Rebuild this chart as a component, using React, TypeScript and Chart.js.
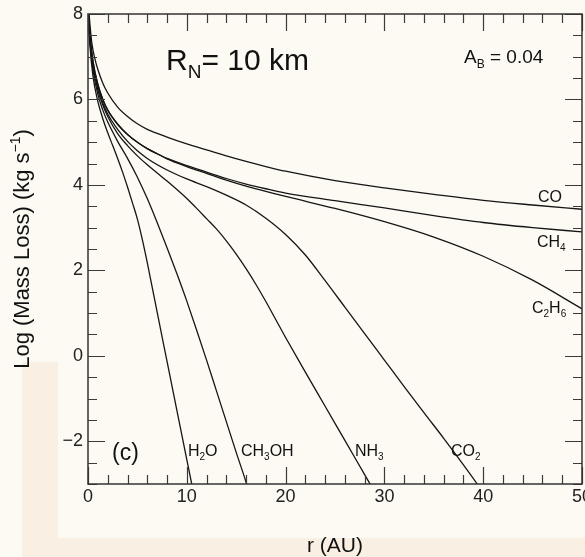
import React, { useEffect, useRef } from "react";
import { Chart, registerables } from "chart.js";

Chart.register(...registerables);

const FONT = '"Liberation Sans", Arial, Helvetica, sans-serif';

const X_MIN = 0;
const X_MAX = 50;
const Y_MIN = -3;
const Y_MAX = 8;
const X_TICKS = [0, 10, 20, 30, 40, 50];
const Y_TICKS = [-2, 0, 2, 4, 6, 8];
const X_MINOR = 2;
const X_MAJOR = 10;
const Y_MINOR = 0.5;
const Y_MAJOR = 2;

// r (AU) and log mass loss (kg/s) per species
const CO_R = [0, 0.2, 0.4, 0.7, 1, 1.5, 2, 3, 4, 5, 6, 8, 10, 12, 14, 16, 18, 20, 25, 30, 35, 40, 45, 50];
const CO_LOG = [8.3, 7.75, 7.3, 6.95, 6.7, 6.38, 6.15, 5.82, 5.6, 5.43, 5.3, 5.12, 4.96, 4.82, 4.68, 4.55, 4.43, 4.32, 4.1, 3.93, 3.78, 3.64, 3.53, 3.43];

const CH4_R = [0, 0.2, 0.5, 1, 1.5, 2, 3, 4, 5, 6, 7, 8, 10, 12, 14, 16, 18, 20, 25, 30, 35, 40, 45, 50];
const CH4_LOG = [8.2, 7.5, 6.9, 6.35, 6.0, 5.75, 5.42, 5.18, 5.0, 4.85, 4.73, 4.62, 4.45, 4.3, 4.15, 4.02, 3.91, 3.81, 3.63, 3.46, 3.28, 3.12, 3.0, 2.9];

const C2H6_R = [0, 0.2, 0.5, 1, 1.5, 2, 3, 4, 5, 6, 7, 8, 10, 12, 14, 16, 18, 20, 25, 30, 35, 40, 45, 50];
const C2H6_LOG = [8.2, 7.5, 6.9, 6.35, 6.0, 5.75, 5.42, 5.18, 5.0, 4.85, 4.73, 4.61, 4.43, 4.27, 4.11, 3.97, 3.85, 3.73, 3.45, 3.14, 2.78, 2.33, 1.77, 1.1];

const CO2_R = [0, 0.2, 0.5, 1, 1.5, 2, 3, 4, 5, 6, 8, 10, 12, 14, 16, 18, 20, 22, 24, 26, 28, 30, 32, 34, 36, 38, 39.4, 39.7];
const CO2_LOG = [8.1, 7.4, 6.8, 6.3, 5.92, 5.66, 5.3, 5.02, 4.8, 4.62, 4.35, 4.14, 3.96, 3.76, 3.53, 3.22, 2.84, 2.36, 1.76, 1.14, 0.52, -0.1, -0.72, -1.33, -1.93, -2.55, -3.0, -3.1];

const NH3_R = [0, 0.2, 0.5, 1, 1.5, 2, 3, 4, 5, 6, 7, 8, 9, 10, 11, 12, 13, 14, 15, 16, 17, 18, 19, 20, 22, 24, 26, 28, 28.8];
const NH3_LOG = [8.1, 7.4, 6.8, 6.22, 5.87, 5.6, 5.2, 4.92, 4.68, 4.47, 4.28, 4.09, 3.89, 3.68, 3.45, 3.21, 2.97, 2.69, 2.38, 2.04, 1.67, 1.27, 0.85, 0.43, -0.38, -1.18, -1.98, -2.78, -3.1];

const CH3OH_R = [0, 0.2, 0.5, 1, 1.5, 2, 3, 4, 5, 6, 7, 8, 9, 10, 11, 12, 13, 14, 15, 16, 16.3];
const CH3OH_LOG = [8.1, 7.35, 6.7, 6.12, 5.75, 5.47, 5.02, 4.62, 4.18, 3.68, 3.12, 2.53, 1.92, 1.28, 0.6, -0.1, -0.82, -1.54, -2.26, -2.96, -3.2];

const H2O_R = [0, 0.2, 0.5, 1, 1.5, 2, 2.5, 3, 3.5, 4, 4.5, 5, 5.5, 6, 6.5, 7, 8, 9, 10, 10.5, 10.6];
const H2O_LOG = [8.1, 7.25, 6.55, 5.95, 5.55, 5.22, 4.92, 4.62, 4.3, 3.95, 3.58, 3.2, 2.72, 2.18, 1.6, 1.02, -0.13, -1.28, -2.43, -3.0, -3.12];

const SERIES = [
  { name: "CO", r: CO_R, v: CO_LOG },
  { name: "CH4", r: CH4_R, v: CH4_LOG },
  { name: "C2H6", r: C2H6_R, v: C2H6_LOG },
  { name: "CO2", r: CO2_R, v: CO2_LOG },
  { name: "NH3", r: NH3_R, v: NH3_LOG },
  { name: "CH3OH", r: CH3OH_R, v: CH3OH_LOG },
  { name: "H2O", r: H2O_R, v: H2O_LOG },
];

type Part = { t: string; sub?: boolean; sup?: boolean };

function drawRich(ctx: CanvasRenderingContext2D, parts: Part[], x: number, y: number, size: number, measureOnly = false): number {
  let cx = x;
  for (const p of parts) {
    const s = p.sub || p.sup ? Math.round(size * 0.62) : size;
    ctx.font = `${s}px ${FONT}`;
    const dy = p.sub ? size * 0.28 : p.sup ? -size * 0.42 : 0;
    if (!measureOnly) ctx.fillText(p.t, cx, y + dy);
    cx += ctx.measureText(p.t).width;
  }
  return cx - x;
}

const CURVE_LABELS: { parts: Part[]; x: number; y: number }[] = [
  { parts: [{ t: "CO" }], x: 538, y: 202 },
  { parts: [{ t: "CH" }, { t: "4", sub: true }], x: 537, y: 247 },
  { parts: [{ t: "C" }, { t: "2", sub: true }, { t: "H" }, { t: "6", sub: true }], x: 532, y: 313 },
  { parts: [{ t: "H" }, { t: "2", sub: true }, { t: "O" }], x: 188, y: 456 },
  { parts: [{ t: "CH" }, { t: "3", sub: true }, { t: "OH" }], x: 241, y: 456 },
  { parts: [{ t: "NH" }, { t: "3", sub: true }], x: 355, y: 456 },
  { parts: [{ t: "CO" }, { t: "2", sub: true }], x: 451, y: 456 },
];

const decorPlugin = {
  id: "decor",
  beforeDraw(chart: any) {
    const { ctx, width, height } = chart;
    ctx.save();
    ctx.fillStyle = "#fcfaf3";
    ctx.fillRect(0, 0, width, height);
    ctx.fillStyle = "rgba(240, 200, 165, 0.2)";
    ctx.fillRect(22, 362, 36, height - 362);
    ctx.fillRect(58, 538, width - 58, height - 538);
    ctx.restore();
  },
  afterDraw(chart: any) {
    const { ctx, chartArea: a } = chart;
    const xs = chart.scales.x;
    const ys = chart.scales.y;
    ctx.save();
    // ticks
    ctx.strokeStyle = "#3a3a3a";
    ctx.lineWidth = 1.2;
    ctx.beginPath();
    const nx = Math.round((X_MAX - X_MIN) / X_MINOR);
    for (let i = 0; i <= nx; i++) {
      const v = X_MIN + i * X_MINOR;
      const major = Math.abs(v / X_MAJOR - Math.round(v / X_MAJOR)) < 1e-6;
      const len = major ? 17 : 9;
      const px = Math.round(xs.getPixelForValue(v)) + 0.5;
      ctx.moveTo(px, a.bottom);
      ctx.lineTo(px, a.bottom - len);
      ctx.moveTo(px, a.top);
      ctx.lineTo(px, a.top + len);
    }
    const ny = Math.round((Y_MAX - Y_MIN) / Y_MINOR);
    for (let i = 0; i <= ny; i++) {
      const v = Y_MIN + i * Y_MINOR;
      const major = Math.abs(v / Y_MAJOR - Math.round(v / Y_MAJOR)) < 1e-6;
      const len = major ? 17 : 9;
      const py = Math.round(ys.getPixelForValue(v)) + 0.5;
      ctx.moveTo(a.left, py);
      ctx.lineTo(a.left + len, py);
      ctx.moveTo(a.right, py);
      ctx.lineTo(a.right - len, py);
    }
    ctx.stroke();
    // frame
    ctx.lineWidth = 1.5;
    ctx.strokeStyle = "#333";
    ctx.strokeRect(a.left, a.top, a.right - a.left, a.bottom - a.top);

    ctx.fillStyle = "#111";
    ctx.textBaseline = "alphabetic";
    ctx.textAlign = "left";
    // curve labels
    for (const l of CURVE_LABELS) drawRich(ctx, l.parts, l.x, l.y, 16);
    // annotations
    drawRich(ctx, [{ t: "R" }, { t: "N", sub: true }, { t: "= 10 km" }], 166, 70, 30);
    drawRich(ctx, [{ t: "A" }, { t: "B", sub: true }, { t: " = 0.04" }], 464, 63, 19);
    ctx.font = `23px ${FONT}`;
    ctx.fillText("(c)", 112, 460);
    // x title
    ctx.font = `21px ${FONT}`;
    ctx.textAlign = "center";
    ctx.fillText("r (AU)", (a.left + a.right) / 2, 552);
    // y title
    ctx.textAlign = "left";
    const yParts: Part[] = [{ t: "Log (Mass Loss) (kg s" }, { t: "\u22121", sup: true }, { t: ")" }];
    const w = drawRich(ctx, yParts, 0, 0, 22, true);
    ctx.translate(29, (a.top + a.bottom) / 2);
    ctx.rotate(-Math.PI / 2);
    drawRich(ctx, yParts, -w / 2, 0, 22);
    ctx.restore();
  },
};

export default function App() {
  const ref = useRef<HTMLCanvasElement | null>(null);
  useEffect(() => {
    if (!ref.current) return;
    const chart = new Chart(ref.current, {
      type: "line",
      data: {
        datasets: SERIES.map((s) => ({
          label: s.name,
          data: s.r.map((r, i) => ({ x: r, y: s.v[i] })),
          borderColor: "#151515",
          borderWidth: 1.3,
          pointRadius: 0,
          fill: false,
          cubicInterpolationMode: "monotone" as const,
        })),
      },
      options: {
        animation: false,
        responsive: false,
        devicePixelRatio: 1,
        layout: { padding: { top: 14, right: 3, left: 0, bottom: 0 } },
        plugins: { legend: { display: false }, tooltip: { enabled: false } },
        scales: {
          x: {
            type: "linear",
            min: X_MIN,
            max: X_MAX,
            grid: { display: false, drawTicks: false },
            border: { display: false },
            afterBuildTicks: (axis: any) => {
              axis.ticks = X_TICKS.map((v) => ({ value: v }));
            },
            ticks: {
              font: { size: 18, family: FONT },
              color: "#222",
              padding: 2,
              maxRotation: 0,
              autoSkip: false,
            },
            afterFit: (axis: any) => {
              axis.height = 73;
              axis.paddingLeft = 0;
              axis.paddingRight = 0;
            },
          },
          y: {
            type: "linear",
            min: Y_MIN,
            max: Y_MAX,
            grid: { display: false, drawTicks: false },
            border: { display: false },
            afterBuildTicks: (axis: any) => {
              axis.ticks = Y_TICKS.map((v) => ({ value: v }));
            },
            ticks: {
              font: { size: 18, family: FONT },
              color: "#222",
              padding: 5,
              autoSkip: false,
              callback: (v: any) => (Number(v) < 0 ? "\u2212" + Math.abs(Number(v)) : String(v)),
            },
            afterFit: (axis: any) => {
              axis.width = 88;
              axis.paddingTop = 0;
              axis.paddingBottom = 0;
            },
          },
        },
      },
      plugins: [decorPlugin],
    });
    return () => chart.destroy();
  }, []);
  return (
    <div style={{ position: "fixed", left: 0, top: 0, width: 585, height: 557 }}>
      <canvas ref={ref} width={585} height={557} style={{ display: "block" }} />
    </div>
  );
}
